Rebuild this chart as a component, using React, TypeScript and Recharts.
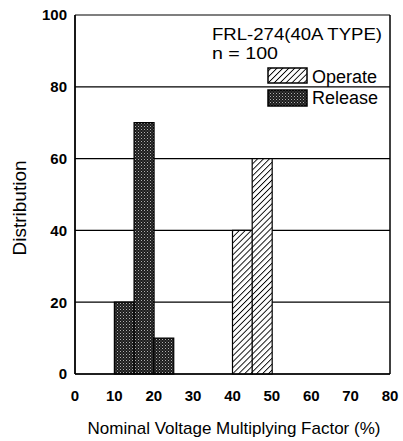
import React from 'react';
import { BarChart, Bar, XAxis, YAxis, CartesianGrid, ReferenceLine, Legend } from 'recharts';

// 5% wide bins, value = bin centre
const binCenters = [2.5, 7.5, 12.5, 17.5, 22.5, 27.5, 32.5, 37.5, 42.5, 47.5, 52.5, 57.5, 62.5, 67.5, 72.5, 77.5];
const operateValues = [0, 0, 0, 0, 0, 0, 0, 0, 40, 60, 0, 0, 0, 0, 0, 0];
const releaseValues = [0, 0, 20, 70, 10, 0, 0, 0, 0, 0, 0, 0, 0, 0, 0, 0];
const xTicks = [0, 10, 20, 30, 40, 50, 60, 70, 80];
const yTicks = [0, 20, 40, 60, 80, 100];

const data = binCenters.map((x, i) => ({ x, operate: operateValues[i], release: releaseValues[i] }));

const FONT = 'Arial, "Liberation Sans", sans-serif';
const tickStyle = { fill: '#000', fontSize: 15, fontWeight: 'bold', fontFamily: FONT };

const Patterns = () => (
    <defs>
        <pattern id="hatch" width="4.2" height="4.2" patternUnits="userSpaceOnUse" patternTransform="rotate(45)">
            <rect width="4.2" height="4.2" fill="#fff" />
            <line x1="0" y1="0" x2="0" y2="4.2" stroke="#000" strokeWidth="1.8" />
        </pattern>
        <pattern id="stipple" width="3" height="3" patternUnits="userSpaceOnUse">
            <rect width="3" height="3" fill="#1c1c1c" />
            <rect x="0" y="0" width="1" height="1" fill="#b0b0b0" />
            <rect x="1.5" y="1.5" width="1" height="1" fill="#707070" />
        </pattern>
    </defs>
);

const LegendBox = () => (
    <svg width={403} height={120} style={{ display: 'block' }}>
        <text x={212} y={40} fontSize={16} textLength={170} lengthAdjust="spacingAndGlyphs" fontFamily={FONT} fill="#000">FRL-274(40A TYPE)</text>
        <text x={212} y={59} fontSize={16} textLength={66} lengthAdjust="spacingAndGlyphs" fontFamily={FONT} fill="#000">n = 100</text>
        <rect x={268} y={68} width={39} height={15} fill="url(#hatch)" stroke="#000" strokeWidth={1.5} />
        <text x={312} y={83} fontSize={18} fontFamily={FONT} fill="#000">Operate</text>
        <rect x={268} y={90} width={39} height={16} fill="url(#stipple)" stroke="#000" strokeWidth={1.5} />
        <text x={312} y={104} fontSize={18} fontFamily={FONT} fill="#000">Release</text>
    </svg>
);

const XLabel = () => (
    <text x={234} y={434} textAnchor="middle" fontSize={17} fontFamily={FONT} fill="#000">
        Nominal Voltage Multiplying Factor (%)
    </text>
);

const YLabel = () => (
    <text x={19} y={208} transform="rotate(-90 19 208)" textAnchor="middle" dominantBaseline="central"
        fontSize={19} fontFamily={FONT} fill="#000">
        Distribution
    </text>
);

export default function App() {
    return (
        <div style={{ position: 'absolute', top: 0, left: 0, width: 403, height: 441, background: '#fff' }}>
            <BarChart width={403} height={441} data={data} margin={{ top: 15, right: 13, bottom: 37, left: 0 }}
                barCategoryGap={0} barGap={0}>
                <Patterns />
                <CartesianGrid vertical={false} stroke="#000" strokeWidth={1.2} />
                <XAxis dataKey="x" type="number" domain={[0, 80]} ticks={xTicks} interval={0} height={30}
                    tickLine={false} tickMargin={10} axisLine={{ stroke: '#000', strokeWidth: 1.5 }}
                    tick={tickStyle} label={() => <XLabel />} />
                <YAxis type="number" domain={[0, 100]} ticks={yTicks} interval={0} width={75}
                    tickLine={false} axisLine={{ stroke: '#000', strokeWidth: 1.8 }}
                    tick={tickStyle} label={() => <YLabel />} />
                <ReferenceLine x={80} stroke="#000" strokeWidth={1.5} />
                <Bar dataKey="release" stackId="a" fill="url(#stipple)" stroke="#000" strokeWidth={1.2}
                    isAnimationActive={false} />
                <Bar dataKey="operate" stackId="a" fill="url(#hatch)" stroke="#000" strokeWidth={1.2}
                    isAnimationActive={false} />
                <Legend verticalAlign="middle" align="center" content={() => <LegendBox />}
                    wrapperStyle={{ position: 'absolute', top: 0, left: 0, width: 403, height: 120, pointerEvents: 'none' }} />
            </BarChart>
        </div>
    );
}
